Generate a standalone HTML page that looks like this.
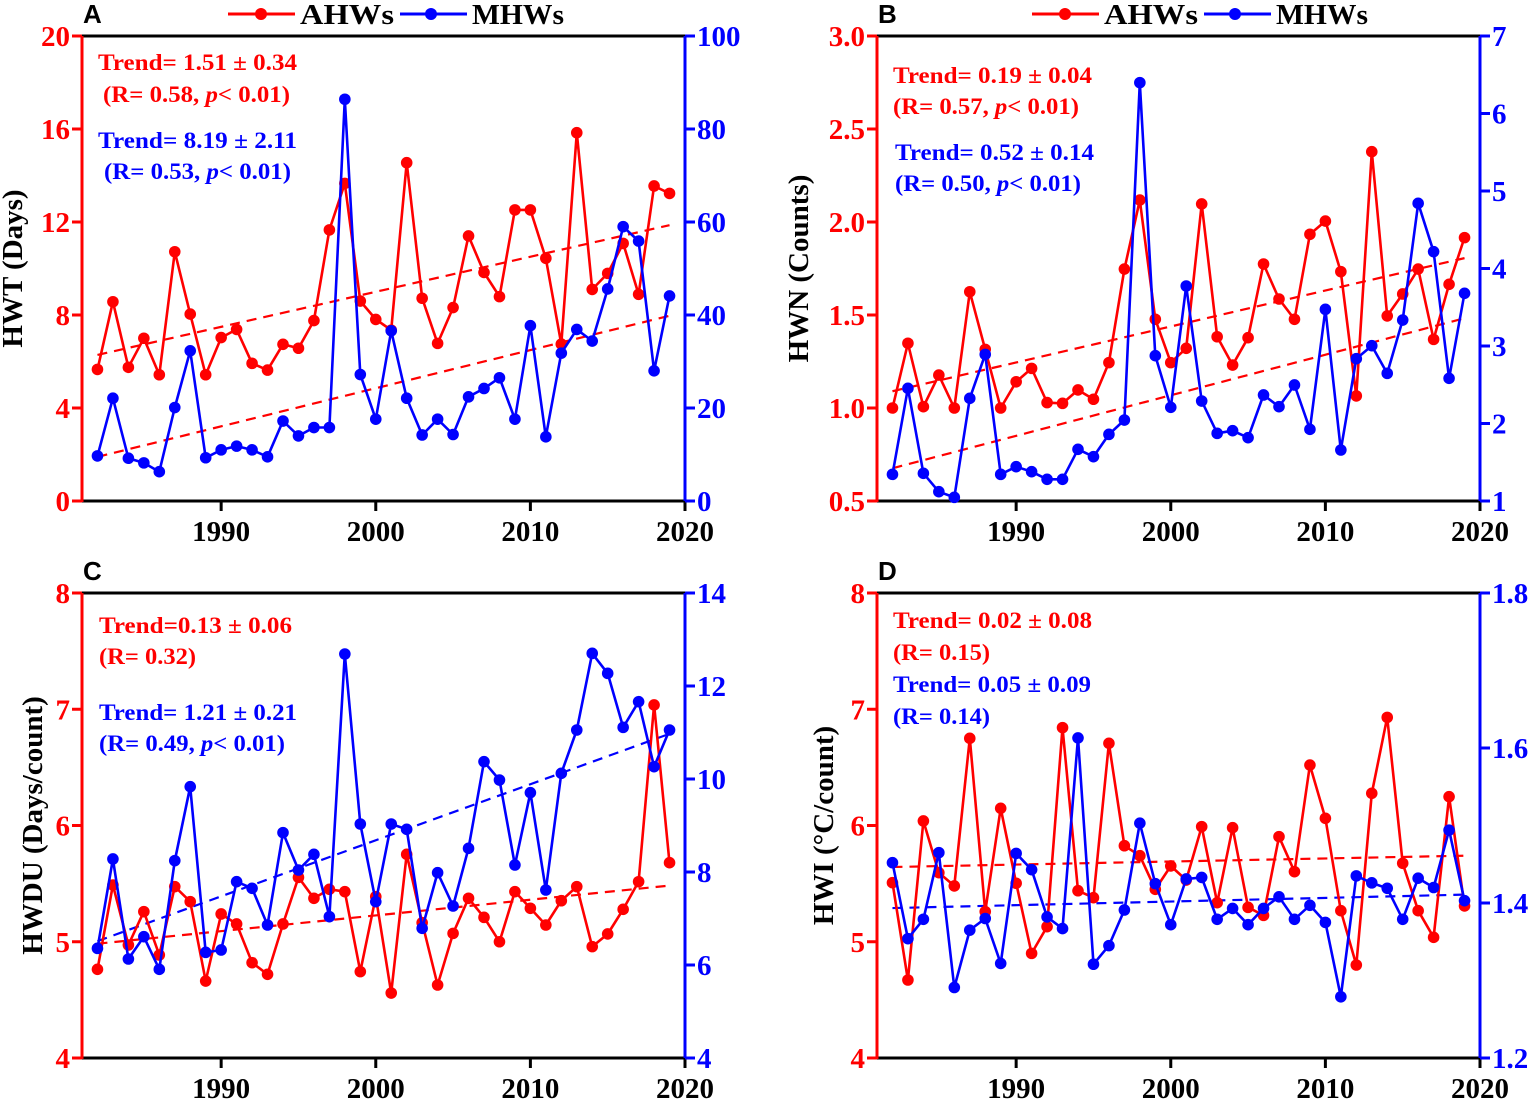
<!DOCTYPE html>
<html><head><meta charset="utf-8">
<style>
html,body{margin:0;padding:0;background:#fff;}
svg{display:block;font-family:"Liberation Serif",serif;}
.tk{font-weight:bold;font-size:29px;}
.an{font-weight:bold;font-size:23px;}
.lt{font-family:"Liberation Sans",sans-serif;font-weight:bold;font-size:26px;}
</style></head>
<body>
<svg id="chart" width="1535" height="1100" viewBox="0 0 1535 1100" xmlns="http://www.w3.org/2000/svg"></svg>
<script>
const years = [];
for (let y = 1982; y <= 2019; y++) years.push(y);
const xTicks = [1990, 2000, 2010, 2020];

const hwtAHW = [5.66,8.57,5.75,7.0,5.43,10.72,8.04,5.43,7.03,7.38,5.92,5.63,6.74,6.57,7.76,11.66,13.66,8.6,7.81,7.35,14.55,8.72,6.78,8.32,11.4,9.83,8.79,12.52,12.52,10.44,6.75,15.84,9.1,9.79,11.08,8.89,13.55,13.23];
const hwtMHW = [9.7,22.1,9.2,8.2,6.3,20.1,32.3,9.3,11.0,11.8,11.0,9.5,17.2,14.0,15.8,15.8,86.4,27.2,17.6,36.6,22.1,14.2,17.6,14.3,22.4,24.2,26.5,17.6,37.7,13.8,31.8,36.9,34.4,45.6,59.0,55.9,28.0,44.1];
const hwnAHW = [1.0,1.348,1.007,1.177,1.0,1.625,1.315,1.0,1.141,1.213,1.029,1.025,1.097,1.047,1.244,1.747,2.118,1.477,1.244,1.321,2.097,1.383,1.231,1.378,1.774,1.586,1.477,1.934,2.005,1.733,1.065,2.378,1.495,1.613,1.747,1.369,1.665,1.916];
const hwnMHW = [1.344,2.454,1.357,1.12,1.047,2.325,2.892,1.344,1.443,1.378,1.28,1.28,1.667,1.572,1.86,2.045,6.398,2.875,2.209,3.774,2.29,1.873,1.907,1.817,2.368,2.217,2.497,1.925,3.473,1.658,2.836,3.004,2.647,3.335,4.841,4.217,2.583,3.68];
const hwduAHW = [4.763,5.488,4.972,5.259,4.886,5.474,5.345,4.662,5.239,5.153,4.82,4.72,5.153,5.554,5.374,5.451,5.431,4.743,5.388,4.559,5.752,5.164,4.628,5.072,5.374,5.21,5.0,5.431,5.288,5.144,5.353,5.474,4.958,5.067,5.279,5.517,7.037,5.68];
const hwduMHW = [6.358,8.28,6.129,6.609,5.907,8.244,9.835,6.272,6.323,7.792,7.649,6.86,8.846,8.043,8.38,7.04,12.688,9.032,7.362,9.032,8.918,6.789,7.985,7.269,8.509,10.372,9.978,8.151,9.706,7.613,10.122,11.054,12.702,12.272,11.111,11.663,10.265,11.054];
const hwiAHW = [5.508,4.671,6.039,5.594,5.48,6.75,5.259,6.148,5.503,4.9,5.13,6.842,5.439,5.379,6.707,5.826,5.74,5.451,5.652,5.531,5.99,5.336,5.981,5.296,5.227,5.904,5.603,6.52,6.062,5.267,4.8,6.277,6.93,5.675,5.267,5.038,6.248,5.308];
const hwiMHW = [1.452,1.354,1.379,1.465,1.291,1.365,1.38,1.322,1.464,1.443,1.382,1.367,1.613,1.321,1.345,1.391,1.503,1.425,1.372,1.431,1.433,1.379,1.393,1.372,1.393,1.408,1.379,1.397,1.375,1.279,1.435,1.426,1.419,1.379,1.432,1.42,1.494,1.403];

const ticksA_L = [0,4,8,12,16,20], ticksA_R = [0,20,40,60,80,100];
const ticksB_L = [0.5,1.0,1.5,2.0,2.5,3.0], ticksB_R = [1,2,3,4,5,6,7];
const ticksC_L = [4,5,6,7,8], ticksC_R = [4,6,8,10,12,14];
const ticksD_L = [4,5,6,7,8], ticksD_R = [1.2,1.4,1.6,1.8];

const NS = "http://www.w3.org/2000/svg";
const svg = document.getElementById("chart");
function mk(tag, attrs, parent, text) {
  const e = document.createElementNS(NS, tag);
  for (const k in attrs) e.setAttribute(k, attrs[k]);
  if (text !== undefined) e.textContent = text;
  (parent || svg).appendChild(e);
  return e;
}
function fit(xs, ys) {
  const n = xs.length; let mx = 0, my = 0;
  for (let i = 0; i < n; i++) { mx += xs[i]; my += ys[i]; }
  mx /= n; my /= n; let sxy = 0, sxx = 0;
  for (let i = 0; i < n; i++) { sxy += (xs[i]-mx)*(ys[i]-my); sxx += (xs[i]-mx)*(xs[i]-mx); }
  const b = sxy / sxx; return [my - b*mx, b];
}
const RED = "#ff0000", BLUE = "#0000ff";

function panel(p) {
  const g = mk("g", {});
  
  
  const xs = v => p.x0 + (v - 1981) / (2020 - 1981) * (p.x1 - p.x0);
  const yl = v => p.y1 - (v - p.lmin) / (p.lmax - p.lmin) * (p.y1 - p.y0);
  const yr = v => p.y1 - (v - p.rmin) / (p.rmax - p.rmin) * (p.y1 - p.y0);
  const top = mk("line", {x1:p.x0, y1:p.y0, x2:p.x1, y2:p.y0, stroke:"#000", "stroke-width":3}, g);
  
  
  const bot = mk("line", {x1:p.x0, y1:p.y1, x2:p.x1+1, y2:p.y1, stroke:"#000", "stroke-width":3}, g);
  
  
  const la = mk("line", {x1:p.x0, y1:p.y0, x2:p.x0, y2:p.y1+1, stroke:RED, "stroke-width":3}, g);
  
  
  const ra = mk("line", {x1:p.x1, y1:p.y0, x2:p.x1, y2:p.y1+1, stroke:BLUE, "stroke-width":3}, g);
  
  
  xTicks.forEach(t => {
    const x = xs(t);
    mk("line", {x1:x, y1:p.y1, x2:x, y2:p.y1+10, stroke:"#000", "stroke-width":3}, g);
    const tl = mk("text", {x:x, y:p.y1+40, "text-anchor":"middle", class:"tk", fill:"#000"}, g, String(t));
    
    
  });
  p.lt.forEach(t => {
    const y = yl(t);
    mk("line", {x1:p.x0-10, y1:y, x2:p.x0, y2:y, stroke:RED, "stroke-width":3}, g);
    const tl = mk("text", {x:p.x0-12, y:y+10, "text-anchor":"end", class:"tk", fill:RED}, g, p.lfmt(t));
    
    
  });
  p.rt.forEach(t => {
    const y = yr(t);
    mk("line", {x1:p.x1, y1:y, x2:p.x1+10, y2:y, stroke:BLUE, "stroke-width":3}, g);
    const tl = mk("text", {x:p.x1+12, y:y+10, "text-anchor":"start", class:"tk", fill:BLUE}, g, p.rfmt(t));
    
    
  });
  const yt = mk("text", {x:0, y:0, "text-anchor":"middle", class:"tk", "font-size":"28", fill:"#000",
    transform:`translate(${p.titleX},${(p.y0+p.y1)/2}) rotate(-90)`}, g, p.title);
  
  
  const lt = mk("text", {x:p.x0+1, y:p.y0-13, class:"lt", fill:"#000"}, g, p.letter);
  
  
  const [aR, bR] = fit(years, p.red);
  const tr = mk("line", {x1:xs(1982), y1:yl(aR+bR*1982), x2:xs(2019), y2:yl(aR+bR*2019), stroke:RED, "stroke-width":2.2, "stroke-dasharray":"10,7"}, g);
  
  
  const [aB, bB] = fit(years, p.blue);
  const tb = mk("line", {x1:xs(1982), y1:yr(aB+bB*1982), x2:xs(2019), y2:yr(aB+bB*2019), stroke:p.blueTrendColor, "stroke-width":2.2, "stroke-dasharray":"10,7"}, g);
  
  
  function series(vals, sc, color, nm) {
    const pts = vals.map((v, i) => xs(years[i]).toFixed(1) + "," + sc(v).toFixed(1)).join(" ");
    const pl = mk("polyline", {points:pts, fill:"none", stroke:color, "stroke-width":2.6, "stroke-linejoin":"round"}, g);
    
    
    vals.forEach((v, i) => {
      const c = mk("circle", {cx:xs(years[i]), cy:sc(v), r:5.8, fill:color}, g);
      
      
    });
  }
  series(p.red, yl, RED, "ahw");
  series(p.blue, yr, BLUE, "mhw");
  p.notes.forEach(n => {
    const t = mk("text", {x:n[0], y:n[1], class:"an", fill:n[3], textLength:n[4], lengthAdjust:"spacingAndGlyphs"}, g);
    t.innerHTML = n[2];
    
    
  });
  if (p.legend) {
    const L = p.legend;
    const lg = mk("g", {}, g);
    
    
    mk("line", {x1:L[0], y1:14, x2:L[0]+67, y2:14, stroke:RED, "stroke-width":3}, lg);
    mk("circle", {cx:L[0]+33, cy:14, r:6, fill:RED}, lg);
    const t1 = mk("text", {x:L[0]+72, y:24, class:"tk", "font-size":"28", fill:"#000", textLength:94, lengthAdjust:"spacingAndGlyphs"}, lg, "AHWs");
    
    
    mk("line", {x1:L[0]+172, y1:14, x2:L[0]+239, y2:14, stroke:BLUE, "stroke-width":3}, lg);
    mk("circle", {cx:L[0]+203, cy:14, r:6, fill:BLUE}, lg);
    const t2 = mk("text", {x:L[0]+244, y:24, class:"tk", "font-size":"28", fill:"#000", textLength:92, lengthAdjust:"spacingAndGlyphs"}, lg, "MHWs");
    
    
  }
}
const f0 = t => String(t), f1 = t => t.toFixed(1);
const PI = '<tspan font-style="italic">p</tspan>';
panel({name:"panel-a-hwt", letter:"A", x0:82, x1:685, y0:36, y1:501, lmin:0, lmax:20, rmin:0, rmax:100,
  lt:ticksA_L, rt:ticksA_R, lfmt:f0, rfmt:f0, title:"HWT (Days)", titleX:22, red:hwtAHW, blue:hwtMHW, blueTrendColor:RED,
  legend:[228], notes:[[98,70,"Trend= 1.51 ± 0.34",RED,199],[103,102,"(R= 0.58, "+PI+"&lt; 0.01)",RED,187],[98,148,"Trend= 8.19 ± 2.11",BLUE,199],[104,179,"(R= 0.53, "+PI+"&lt; 0.01)",BLUE,187]]});
panel({name:"panel-b-hwn", letter:"B", x0:877, x1:1480, y0:36, y1:501, lmin:0.5, lmax:3.0, rmin:1, rmax:7,
  lt:ticksB_L, rt:ticksB_R, lfmt:f1, rfmt:f0, title:"HWN (Counts)", titleX:808, red:hwnAHW, blue:hwnMHW, blueTrendColor:RED,
  legend:[1032], notes:[[893,83,"Trend= 0.19 ± 0.04",RED,199],[893,114,"(R= 0.57, "+PI+"&lt; 0.01)",RED,186],[895,160,"Trend= 0.52 ± 0.14",BLUE,199],[895,191,"(R= 0.50, "+PI+"&lt; 0.01)",BLUE,186]]});
panel({name:"panel-c-hwdu", letter:"C", x0:82, x1:685, y0:593, y1:1058, lmin:4, lmax:8, rmin:4, rmax:14,
  lt:ticksC_L, rt:ticksC_R, lfmt:f0, rfmt:f0, title:"HWDU (Days/count)", titleX:42, red:hwduAHW, blue:hwduMHW, blueTrendColor:BLUE,
  notes:[[99,633,"Trend=0.13 ± 0.06",RED,193],[99,664,"(R= 0.32)",RED,97],[99,720,"Trend= 1.21 ± 0.21",BLUE,198],[99,751,"(R= 0.49, "+PI+"&lt; 0.01)",BLUE,186]]});
panel({name:"panel-d-hwi", letter:"D", x0:877, x1:1480, y0:593, y1:1058, lmin:4, lmax:8, rmin:1.2, rmax:1.8,
  lt:ticksD_L, rt:ticksD_R, lfmt:f0, rfmt:f1, title:"HWI (°C/count)", titleX:833, red:hwiAHW, blue:hwiMHW, blueTrendColor:BLUE,
  notes:[[893,628,"Trend= 0.02 ± 0.08",RED,199],[893,660,"(R= 0.15)",RED,97],[893,692,"Trend= 0.05 ± 0.09",BLUE,198],[893,724,"(R= 0.14)",BLUE,97]]});
</script>
</body></html>
